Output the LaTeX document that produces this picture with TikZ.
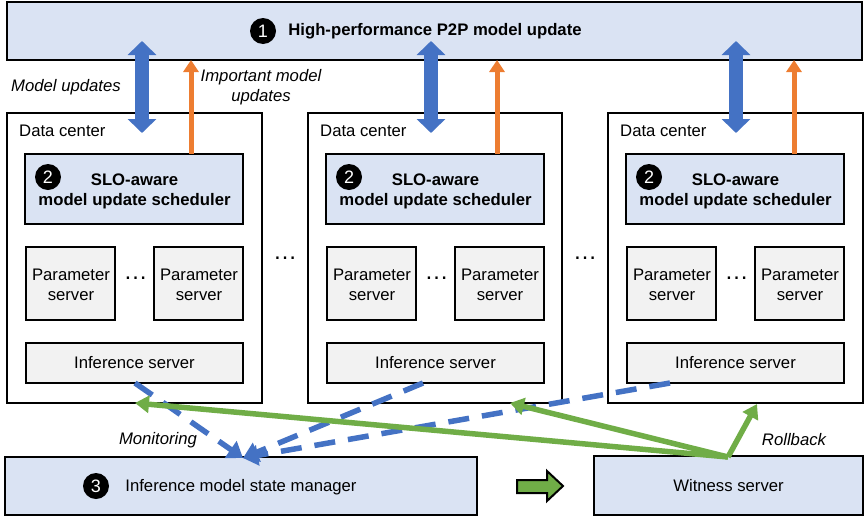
\documentclass[tikz,border=0pt]{standalone}
\usepackage{fontspec}
\setmainfont{Liberation Sans}
\usetikzlibrary{arrows.meta}
\definecolor{paleblue}{HTML}{DAE3F3}
\definecolor{palegray}{HTML}{F2F2F2}
\definecolor{arrblue}{HTML}{4472C4}
\definecolor{arrorange}{HTML}{ED7D31}
\definecolor{arrgreen}{HTML}{70AD47}
\tikzset{
  base/.style={font=\fontsize{16.7}{20}\selectfont,align=center,inner sep=0pt,text=black},
  box/.style={base,draw=black,line width=2.2pt,rectangle,anchor=north west,outer sep=0pt},
  bluebox/.style={box,fill=paleblue},
  graybox/.style={box,fill=palegray},
  whitebox/.style={box,fill=white},
  label/.style={base},
  boldlabel/.style={base,font=\fontsize{16.7}{20}\selectfont\bfseries},
  itlabel/.style={base,font=\fontsize{16.7}{20}\selectfont\itshape},
  dotslabel/.style={base,font=\fontsize{24}{24}\selectfont},
  numdot/.style={circle,fill=black,text=white,minimum size=26pt,inner sep=0pt,font=\fontsize{18}{18}\selectfont},
  bigarrow/.style={draw=arrblue,line width=14pt,{Triangle[length=14pt,width=28pt]}-{Triangle[length=14pt,width=28pt]}},
  orangearrow/.style={draw=arrorange,line width=5pt,-{Triangle[length=12pt,width=15pt]}},
  dasharrow/.style={draw=arrblue,line width=5.5pt,dash pattern=on 21pt off 13pt,-{Triangle[length=15pt,width=20pt]}},
  greenarrow/.style={draw=arrgreen,line width=5.5pt,-{Triangle[length=14pt,width=17pt]}},
}
\newcommand{\boxat}[7]{\node[#2,minimum width=#5pt-#3pt,minimum height=#6pt-#4pt] (#1) at (#3,#4) {#7};}
\begin{document}
\begin{tikzpicture}[x=1pt,y=-1pt]
\useasboundingbox (0,0) rectangle (864,517);
% top
\boxat{top}{bluebox}{7}{2}{862}{60}{}
\node[numdot] (n1) at (263,31) {1};
\node[boldlabel] (toplabel) at (435,31) {High-performance P2P model update};
% data centres
\foreach \nm/\dx/\dcr in {a/0/262,b/301/261,c/601/262}{
  \begin{scope}[shift={(\dx,0)}]
    \boxat{dc\nm}{whitebox}{7}{113}{\dcr}{403}{}
    \node[label,anchor=west] (dl\nm) at (19,131) {Data center};
    \boxat{sch\nm}{bluebox}{25}{154}{243}{224}{}
    \node[boldlabel] (st\nm) at (134.5,191) {SLO-aware\\model update scheduler};
    \node[numdot] (d\nm) at (48,177) {2};
    \boxat{pa\nm}{graybox}{26}{247}{115}{320}{}
    \node[label] (pat\nm) at (71,284.5) {Parameter\\server};
    \boxat{pb\nm}{graybox}{154}{247}{243}{320}{}
    \node[label] (pbt\nm) at (199,284.5) {Parameter\\server};
    \node[dotslabel] (dots\nm) at (135.5,278) {…};
    \boxat{inf\nm}{graybox}{26}{343}{243}{383}{Inference server}
  \end{scope}
}
\node[dotslabel] (gap1) at (285,258) {…};
\node[dotslabel] (gap2) at (585,258) {…};
% bottom
\boxat{mgr}{bluebox}{5}{457}{477}{515}{}
\node[numdot] (n3) at (96,486) {3};
\node[label] (mgrlabel) at (241,487) {Inference model state manager};
\boxat{wit}{bluebox}{594}{456}{863}{515}{Witness server}
% named ends
\coordinate (mon) at (243,458);
\coordinate (src) at (728,457);
\coordinate (ga) at (135,403);
\coordinate (gb) at (510,403);
\coordinate (gc) at (757,404);
\coordinate (ia) at (135,383);
\coordinate (ib) at (423,383);
\coordinate (ic) at (670,383);
% vertical arrows
\foreach \x/\ox/\nm in {142/191/a,431/497/b,736/794/c}{
  \coordinate (bt\nm) at (\x,41);
  \coordinate (bb\nm) at (\x,133);
  \coordinate (ox\nm) at (\ox,100);
  \draw[bigarrow] (bt\nm) -- (bb\nm);
  \draw[orangearrow] (sch\nm.north -| ox\nm) -- (top.south -| ox\nm);
}
% dashed monitoring
\draw[dasharrow] (ia) -- (mon);
\draw[dasharrow] (ib) -- (mon);
\draw[dasharrow] (ic) -- (mon);
% rollback
\draw[greenarrow] (src) -- (ga);
\draw[greenarrow] (src) -- (gb);
\draw[greenarrow] (src) -- (gc);
% block arrow
\draw[draw=black,fill=arrgreen,line width=2pt,line join=miter] (517,480) -- (547,480) -- (547,471) -- (563,486) -- (547,501) -- (547,493) -- (517,493) -- cycle;
% labels
\node[itlabel] (lmu) at (66,87) {Model updates};
\node[itlabel] (lim) at (261,87) {Important model\\updates};
\node[itlabel] (lmon) at (158,440) {Monitoring};
\node[itlabel] (lrb) at (794,440) {Rollback};
\end{tikzpicture}
\end{document}
